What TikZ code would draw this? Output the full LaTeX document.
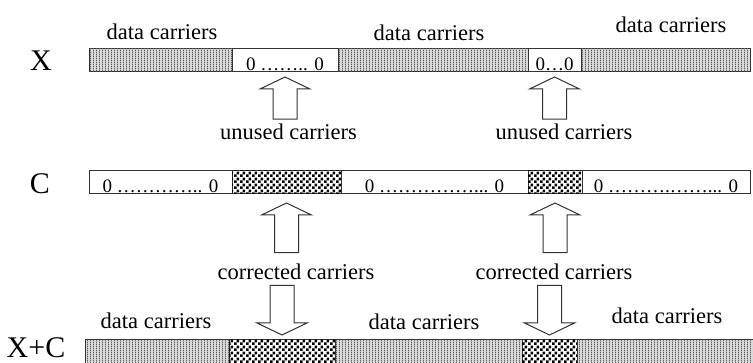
\documentclass[tikz,border=0pt]{standalone}
\usepackage{fontspec}
\setmainfont{Liberation Serif}
\usetikzlibrary{positioning,calc,patterns.meta}

\tikzdeclarepattern{
  name=vbars,
  type=uncolored,
  bounding box={(0pt,0pt) and (1.5pt,1pt)},
  tile size={(1.5pt,1pt)},
  code={\fill (0pt,0pt) rectangle (0.5pt,1pt);}
}
\tikzdeclarepattern{
  name=checks,
  type=uncolored,
  bounding box={(0pt,0pt) and (3pt,3pt)},
  tile size={(3pt,3pt)},
  code={\fill (0pt,0pt) rectangle (1.5pt,1.5pt); \fill (1.5pt,1.5pt) rectangle (3pt,3pt);}
}

\newcommand{\fatarrow}[2]{%
  \draw[blockarrow] let \p1=(#1), \p2=(#2), \n1={ifthenelse(\y2>\y1,1,-1)} in
    (\x2-6pt,\y1) -- (\x2-6pt,{\y2-(\n1)*6pt}) -- (\x2-12.5pt,{\y2-(\n1)*6pt}) -- (\x2,\y2)
    -- (\x2+12.5pt,{\y2-(\n1)*6pt}) -- (\x2+6pt,{\y2-(\n1)*6pt}) -- (\x2+6pt,\y1) -- cycle;}

\begin{document}
\begin{tikzpicture}[
    lbl/.style={font=\fontsize{11.25}{13}\selectfont, inner sep=1pt},
    rowname/.style={font=\fontsize{15}{18}\selectfont, inner sep=0pt},
    seg/.style={draw=black!80, line width=0.5pt, minimum height=11.5pt, inner sep=0pt, outer sep=0pt,
      text height=10pt, text depth=0pt, font=\fontsize{9.5}{10}\selectfont},
    data/.style={seg, fill=gray!30, postaction={pattern=vbars, pattern color=gray!75!black}},
    zeros/.style={seg, fill=white},
    fixed/.style={seg, fill=white, postaction={pattern=checks, pattern color=black}},
    blockarrow/.style={draw=black!80, line width=0.5pt, fill=white}
  ]
    \useasboundingbox (0,0) rectangle (376.5pt,181.5pt);

    \node[rowname] (nx) at (20.5pt,151.25pt) {X};
    \node[rowname] (nc) at (20pt,89.5pt) {C};
    \node[rowname] (nxc) at (18pt,7.5pt) {X+C};

    \node[data, minimum width=71.5pt, anchor=west] (x1) at (44.5pt,151.25pt) {};
    \node[zeros, minimum width=53pt, right=0pt of x1] (x2) {0 …….. 0};
    \node[data, minimum width=95pt, right=0pt of x2] (x3) {};
    \node[zeros, minimum width=26.5pt, right=0pt of x3] (x4) {0…0};
    \node[data, minimum width=84.5pt, right=0pt of x4] (x5) {};

    \node[zeros, minimum width=71.5pt, anchor=west] (c1) at (44.5pt,90.25pt) {0 ………….. 0};
    \node[fixed, minimum width=54.5pt, right=0pt of c1] (c2) {};
    \node[zeros, minimum width=93.5pt, right=0pt of c2] (c3) {0 ……………... 0};
    \node[fixed, minimum width=27pt, right=0pt of c3] (c4) {};
    \node[zeros, minimum width=84pt, right=0pt of c4] (c5) {0 ……….……... 0};

    \node[data, minimum width=72pt, minimum height=13pt, anchor=west] (xc1) at (42.5pt,5pt) {};
    \node[fixed, minimum width=53pt, minimum height=13pt, right=0pt of xc1] (xc2) {};
    \node[data, minimum width=93.5pt, minimum height=13pt, right=0pt of xc2] (xc3) {};
    \node[fixed, minimum width=27.5pt, minimum height=13pt, right=0pt of xc3] (xc4) {};
    \node[data, minimum width=95pt, minimum height=13pt, right=0pt of xc4] (xc5) {};

    \node[lbl] (dx1) at (81pt,165.75pt) {data carriers};
    \node[lbl] (dx2) at (214.5pt,165pt) {data carriers};
    \node[lbl] (dx3) at (335.5pt,169pt) {data carriers};
    \node[lbl] (dxc1) at (78pt,21pt) {data carriers};
    \node[lbl] (dxc2) at (212pt,20.5pt) {data carriers};
    \node[lbl] (dxc3) at (333.5pt,23.75pt) {data carriers};

    \node[lbl] (un1) at (144.25pt,115.75pt) {unused carriers};
    \node[lbl] (un2) at (282pt,115.75pt) {unused carriers};
    \node[lbl] (co1) at (148pt,45.5pt) {corrected carriers};
    \node[lbl] (co2) at (277pt,45.5pt) {corrected carriers};

    \fatarrow{$(x2.south |- un1.north)+(0,1pt)$}{$(x2.south)+(0,-2.5pt)$}
    \fatarrow{$(x4.south |- un2.north)+(0,1pt)$}{$(x4.south)+(0,-2.5pt)$}
    \fatarrow{$(c2.south |- co1.north)+(0,4.5pt)$}{$(c2.south)+(0,-4.5pt)$}
    \fatarrow{$(c4.south |- co2.north)+(0,4.5pt)$}{$(c4.south)+(0,-4.5pt)$}
    \fatarrow{$(xc2.north |- co1.south)+(0,-1.5pt)$}{$(xc2.north)+(0,2.5pt)$}
    \fatarrow{$(xc4.north |- co2.south)+(0,-1.5pt)$}{$(xc4.north)+(0,2.5pt)$}
\end{tikzpicture}
\end{document}
